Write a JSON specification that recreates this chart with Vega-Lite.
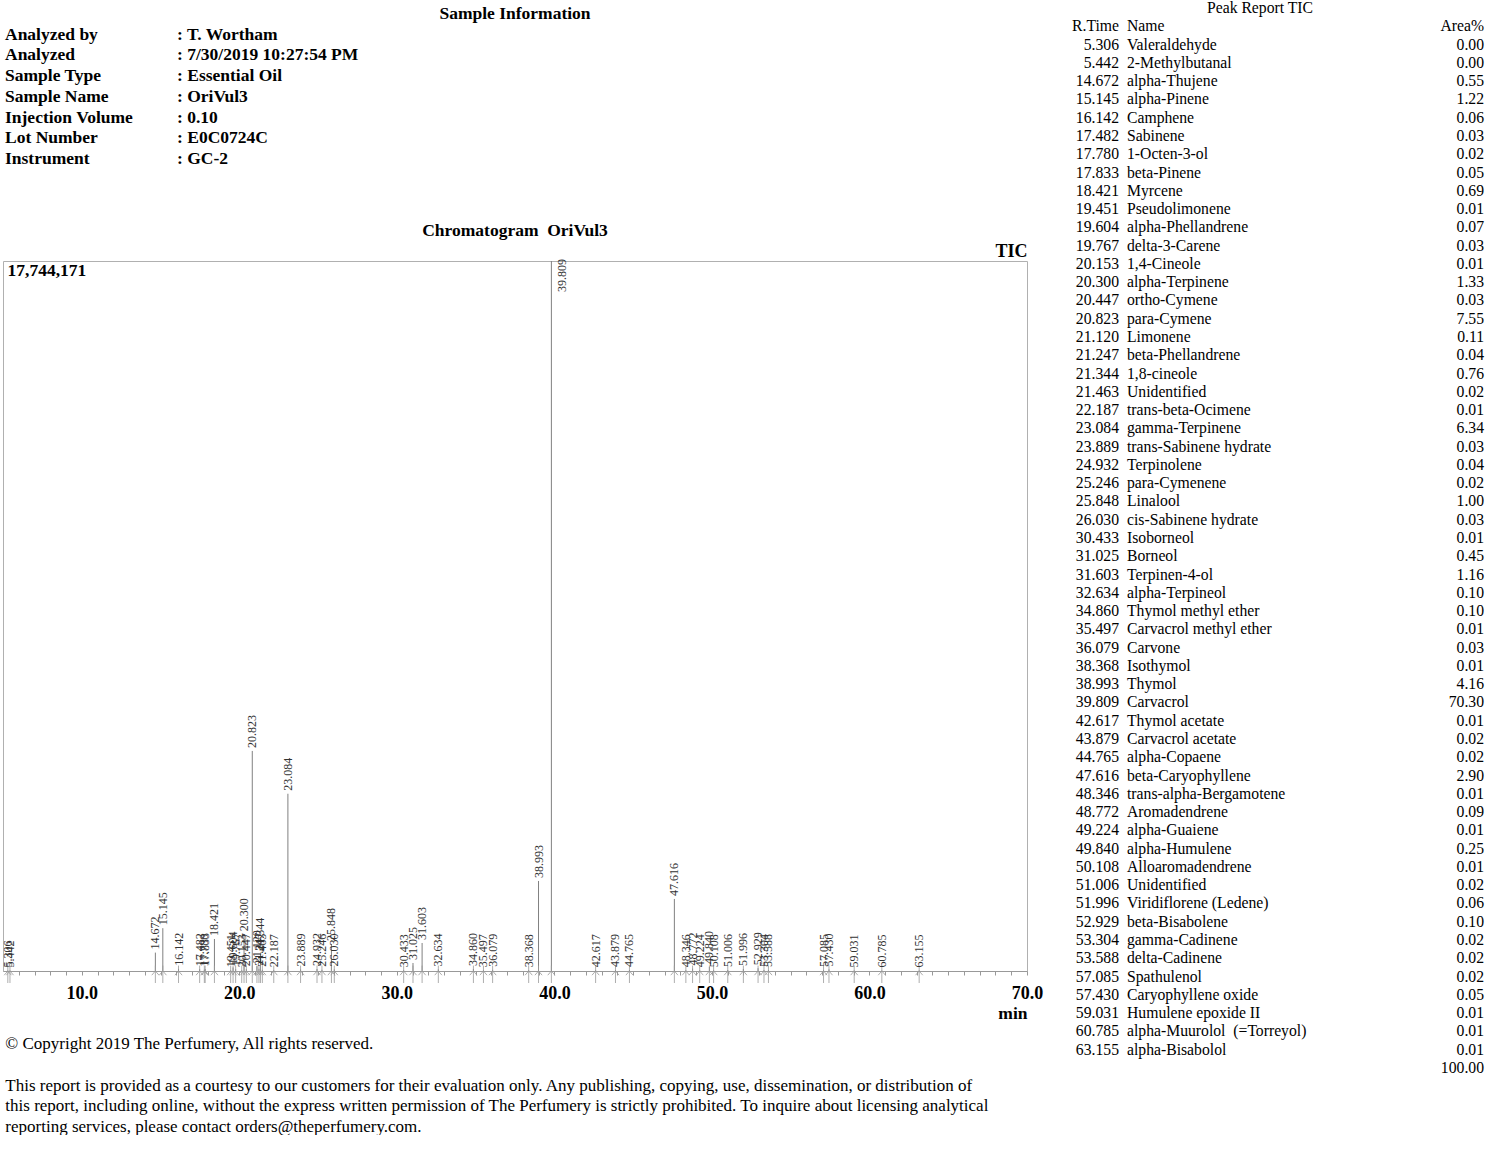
{
  "$schema": "https://vega.github.io/schema/vega-lite/v6.json",
  "background": "white",
  "padding": {"left": 1, "top": 0, "right": 0, "bottom": 0},
  "config": {"font": "Liberation Serif", "view": {"stroke": null}},
  "datasets": {
    "info": [
      {"label": "Analyzed by", "value": ": T. Wortham"},
      {"label": "Analyzed", "value": ": 7/30/2019 10:27:54 PM"},
      {"label": "Sample Type", "value": ": Essential Oil"},
      {"label": "Sample Name", "value": ": OriVul3"},
      {"label": "Injection Volume", "value": ": 0.10"},
      {"label": "Lot Number", "value": ": E0C0724C"},
      {"label": "Instrument", "value": ": GC-2"}
    ],
    "infoHead": [
      {"label": "Sample Information"}
    ],
    "extra": [
      {"rt": "title", "c1": "", "c2": "", "c3": "", "t": "Peak Report TIC"},
      {"rt": "hdr", "c1": "R.Time", "c2": "Name", "c3": "Area%", "t": ""},
      {"rt": "total", "c1": "", "c2": "", "c3": "100.00", "t": ""}
    ],
    "peaks": [
      {"rt": 5.306, "name": "Valeraldehyde", "area": 0.00, "h": 15000},
      {"rt": 5.442, "name": "2-Methylbutanal", "area": 0.00, "h": 15000},
      {"rt": 14.672, "name": "alpha-Thujene", "area": 0.55, "h": 460000},
      {"rt": 15.145, "name": "alpha-Pinene", "area": 1.22, "h": 1070000},
      {"rt": 16.142, "name": "Camphene", "area": 0.06, "h": 55000},
      {"rt": 17.482, "name": "Sabinene", "area": 0.03, "h": 45000},
      {"rt": 17.780, "name": "1-Octen-3-ol", "area": 0.02, "h": 30000},
      {"rt": 17.833, "name": "beta-Pinene", "area": 0.05, "h": 50000},
      {"rt": 18.421, "name": "Myrcene", "area": 0.69, "h": 800000},
      {"rt": 19.451, "name": "Pseudolimonene", "area": 0.01, "h": 20000},
      {"rt": 19.604, "name": "alpha-Phellandrene", "area": 0.07, "h": 90000},
      {"rt": 19.767, "name": "delta-3-Carene", "area": 0.03, "h": 45000},
      {"rt": 20.153, "name": "1,4-Cineole", "area": 0.01, "h": 20000},
      {"rt": 20.300, "name": "alpha-Terpinene", "area": 1.33, "h": 920000},
      {"rt": 20.447, "name": "ortho-Cymene", "area": 0.03, "h": 45000},
      {"rt": 20.823, "name": "para-Cymene", "area": 7.55, "h": 5500000},
      {"rt": 21.120, "name": "Limonene", "area": 0.11, "h": 120000},
      {"rt": 21.247, "name": "beta-Phellandrene", "area": 0.04, "h": 55000},
      {"rt": 21.344, "name": "1,8-cineole", "area": 0.76, "h": 430000},
      {"rt": 21.463, "name": "Unidentified", "area": 0.02, "h": 30000},
      {"rt": 22.187, "name": "trans-beta-Ocimene", "area": 0.01, "h": 20000},
      {"rt": 23.084, "name": "gamma-Terpinene", "area": 6.34, "h": 4430000},
      {"rt": 23.889, "name": "trans-Sabinene hydrate", "area": 0.03, "h": 40000},
      {"rt": 24.932, "name": "Terpinolene", "area": 0.04, "h": 50000},
      {"rt": 25.246, "name": "para-Cymenene", "area": 0.02, "h": 30000},
      {"rt": 25.848, "name": "Linalool", "area": 1.00, "h": 675000},
      {"rt": 26.030, "name": "cis-Sabinene hydrate", "area": 0.03, "h": 40000},
      {"rt": 30.433, "name": "Isoborneol", "area": 0.01, "h": 20000},
      {"rt": 31.025, "name": "Borneol", "area": 0.45, "h": 200000},
      {"rt": 31.603, "name": "Terpinen-4-ol", "area": 1.16, "h": 700000},
      {"rt": 32.634, "name": "alpha-Terpineol", "area": 0.10, "h": 40000},
      {"rt": 34.860, "name": "Thymol methyl ether", "area": 0.10, "h": 50000},
      {"rt": 35.497, "name": "Carvacrol methyl ether", "area": 0.01, "h": 20000},
      {"rt": 36.079, "name": "Carvone", "area": 0.03, "h": 30000},
      {"rt": 38.368, "name": "Isothymol", "area": 0.01, "h": 20000},
      {"rt": 38.993, "name": "Thymol", "area": 4.16, "h": 2250000},
      {"rt": 39.809, "name": "Carvacrol", "area": 70.30, "h": 17744171},
      {"rt": 42.617, "name": "Thymol acetate", "area": 0.01, "h": 20000},
      {"rt": 43.879, "name": "Carvacrol acetate", "area": 0.02, "h": 25000},
      {"rt": 44.765, "name": "alpha-Copaene", "area": 0.02, "h": 25000},
      {"rt": 47.616, "name": "beta-Caryophyllene", "area": 2.90, "h": 1800000},
      {"rt": 48.346, "name": "trans-alpha-Bergamotene", "area": 0.01, "h": 20000},
      {"rt": 48.772, "name": "Aromadendrene", "area": 0.09, "h": 60000},
      {"rt": 49.224, "name": "alpha-Guaiene", "area": 0.01, "h": 20000},
      {"rt": 49.840, "name": "alpha-Humulene", "area": 0.25, "h": 100000},
      {"rt": 50.108, "name": "Alloaromadendrene", "area": 0.01, "h": 20000},
      {"rt": 51.006, "name": "Unidentified", "area": 0.02, "h": 25000},
      {"rt": 51.996, "name": "Viridiflorene (Ledene)", "area": 0.06, "h": 50000},
      {"rt": 52.929, "name": "beta-Bisabolene", "area": 0.10, "h": 70000},
      {"rt": 53.304, "name": "gamma-Cadinene", "area": 0.02, "h": 25000},
      {"rt": 53.588, "name": "delta-Cadinene", "area": 0.02, "h": 25000},
      {"rt": 57.085, "name": "Spathulenol", "area": 0.02, "h": 25000},
      {"rt": 57.430, "name": "Caryophyllene oxide", "area": 0.05, "h": 40000},
      {"rt": 59.031, "name": "Humulene epoxide II", "area": 0.01, "h": 15000},
      {"rt": 60.785, "name": "alpha-Muurolol\u00a0 (=Torreyol)", "area": 0.01, "h": 15000},
      {"rt": 63.155, "name": "alpha-Bisabolol", "area": 0.01, "h": 15000}
    ]
  },
  "hconcat": [
    {
      "spacing": 48,
      "title": {
        "text": "© Copyright 2019 The Perfumery, All rights reserved.",
        "subtitle": [
          "This report is provided as a courtesy to our customers for their evaluation only. Any publishing, copying, use, dissemination, or distribution of",
          "this report, including online, without the express written permission of The Perfumery is strictly prohibited. To inquire about licensing analytical",
          "reporting services, please contact orders@theperfumery.com."
        ],
        "orient": "bottom",
        "anchor": "start",
        "fontSize": 17,
        "fontWeight": "normal",
        "color": "black",
        "subtitleFontSize": 17,
        "subtitleColor": "black",
        "subtitleFont": "Liberation Serif",
        "subtitleLineHeight": 20.3,
        "subtitlePadding": 25,
        "offset": 14,
        "dx": 4
      },
      "vconcat": [
        {
          "width": 1024,
          "height": 173,
          "encoding": {
            "y": {"field": "label", "type": "ordinal", "axis": null,
              "scale": {"type": "point", "padding": 0.676, "domain": ["Sample Information", "Analyzed by", "Analyzed", "Sample Type", "Sample Name", "Injection Volume", "Lot Number", "Instrument"]}}
          },
          "layer": [
            {
              "data": {"name": "infoHead"},
              "mark": {"type": "text", "align": "center", "baseline": "middle", "fontSize": 17.5, "fontWeight": "bold", "color": "black"},
              "encoding": {
                "x": {"datum": 512, "type": "quantitative", "scale": {"domain": [0, 1024], "nice": false, "zero": false}, "axis": null},
                "text": {"field": "label", "type": "nominal"}
              }
            },
            {
              "data": {"name": "info"},
              "mark": {"type": "text", "align": "left", "baseline": "middle", "fontSize": 17.5, "fontWeight": "bold", "color": "black"},
              "encoding": {
                "x": {"datum": 2, "type": "quantitative", "scale": {"domain": [0, 1024], "nice": false, "zero": false}, "axis": null},
                "text": {"field": "label", "type": "nominal"}
              }
            },
            {
              "data": {"name": "info"},
              "mark": {"type": "text", "align": "left", "baseline": "middle", "fontSize": 17.5, "fontWeight": "bold", "color": "black"},
              "encoding": {
                "x": {"datum": 174, "type": "quantitative", "scale": {"domain": [0, 1024], "nice": false, "zero": false}, "axis": null},
                "text": {"field": "value", "type": "nominal"}
              }
            }
          ]
        },
        {
          "width": 1024,
          "height": 710,
          "view": {"stroke": "#b0b0b0", "strokeWidth": 1},
          "title": {"text": "Chromatogram\u00a0 OriVul3", "fontSize": 17.5, "fontWeight": "bold", "color": "black", "anchor": "middle", "offset": 3},
          "data": {"name": "peaks"},
          "encoding": {
            "x": {
              "field": "rt", "type": "quantitative",
              "scale": {"domain": [5, 70], "nice": false, "zero": false},
              "axis": {
                "values": [6,7,8,9,10,11,12,13,14,15,16,17,18,19,20,21,22,23,24,25,26,27,28,29,30,31,32,33,34,35,36,37,38,39,40,41,42,43,44,45,46,47,48,49,50,51,52,53,54,55,56,57,58,59,60,61,62,63,64,65,66,67,68,69,70],
                "labelExpr": "datum.value % 10 === 0 ? format(datum.value, '.1f') : ''",
                "labelFontSize": 18, "labelFontWeight": "bold", "labelColor": "black",
                "labelFlush": false, "labelOverlap": false, "labelPadding": 9,
                "tickSize": 4, "tickColor": "#999", "domainColor": "#999", "grid": false,
                "title": "min", "titleAnchor": "end", "titleAlign": "right",
                "titleFontSize": 17.5, "titleFontWeight": "bold", "titleColor": "black", "titlePadding": 2
              }
            }
          },
          "layer": [
            {
              "mark": {"type": "rule", "color": "#808080", "strokeWidth": 1},
              "encoding": {
                "y": {
                  "field": "h", "type": "quantitative",
                  "scale": {"domain": [0, 17744171], "nice": false, "zero": true},
                  "axis": {
                    "orient": "left", "values": [17744171], "labelExpr": "format(datum.value, ',')",
                    "labelAlign": "left", "labelBaseline": "top", "labelPadding": -4,
                    "ticks": false, "tickSize": 0, "domain": false, "grid": false, "title": null,
                    "labelFontSize": 17.5, "labelFontWeight": "bold", "labelColor": "black"
                  }
                },
                "y2": {"datum": 0}
              }
            },
            {
              "mark": {"type": "point", "shape": "M0,-0.45L0,1M-0.3,0.35L0,0L0.3,0.35", "filled": false, "color": "#999", "strokeWidth": 0.8, "size": 576, "opacity": 1},
              "encoding": {
                "y": {"datum": 0, "type": "quantitative", "axis": null}
              }
            },
            {
              "transform": [{"filter": "datum.rt != 39.809"}],
              "mark": {"type": "text", "angle": 270, "align": "left", "baseline": "middle", "dx": 3, "fontSize": 12, "color": "#333"},
              "encoding": {
                "y": {
                  "field": "h", "type": "quantitative",
                  "axis": {
                    "orient": "right", "labels": false, "ticks": false, "domain": false, "grid": false,
                    "title": "TIC", "titleAngle": 0, "titleAlign": "right", "titleBaseline": "bottom",
                    "titleAnchor": "end", "titleX": 0, "titleY": -1,
                    "titleFontSize": 18, "titleFontWeight": "bold", "titleColor": "black"
                  }
                },
                "text": {"field": "rt", "type": "quantitative", "format": ".3f"}
              }
            },
            {
              "transform": [{"filter": "datum.rt == 39.809"}],
              "mark": {"type": "text", "angle": 270, "align": "right", "baseline": "middle", "dx": 2, "dy": 11, "fontSize": 12, "color": "#333"},
              "encoding": {
                "y": {"field": "h", "type": "quantitative", "axis": null},
                "text": {"field": "rt", "type": "quantitative", "format": ".3f"}
              }
            }
          ],
          "resolve": {"axis": {"y": "independent"}}
        }
      ]
    },
    {
      "width": 425,
      "height": 1076,
      "encoding": {
        "y": {
          "field": "rt", "type": "ordinal", "axis": null,
          "scale": {"type": "point", "padding": 0.44, "domain": ["title","hdr",5.306,5.442,14.672,15.145,16.142,17.482,17.78,17.833,18.421,19.451,19.604,19.767,20.153,20.3,20.447,20.823,21.12,21.247,21.344,21.463,22.187,23.084,23.889,24.932,25.246,25.848,26.03,30.433,31.025,31.603,32.634,34.86,35.497,36.079,38.368,38.993,39.809,42.617,43.879,44.765,47.616,48.346,48.772,49.224,49.84,50.108,51.006,51.996,52.929,53.304,53.588,57.085,57.43,59.031,60.785,63.155,"total"]}
        }
      },
      "layer": [
        {
          "data": {"name": "peaks"},
          "mark": {"type": "text", "align": "right", "baseline": "middle", "fontSize": 15.7, "color": "black"},
          "encoding": {
            "x": {"datum": 56, "type": "quantitative", "scale": {"domain": [0, 425], "nice": false, "zero": false}, "axis": null},
            "text": {"field": "rt", "type": "quantitative", "format": ".3f"}
          }
        },
        {
          "data": {"name": "peaks"},
          "mark": {"type": "text", "align": "left", "baseline": "middle", "fontSize": 15.7, "color": "black"},
          "encoding": {
            "x": {"datum": 64, "type": "quantitative", "scale": {"domain": [0, 425], "nice": false, "zero": false}, "axis": null},
            "text": {"field": "name", "type": "nominal"}
          }
        },
        {
          "data": {"name": "peaks"},
          "mark": {"type": "text", "align": "right", "baseline": "middle", "fontSize": 15.7, "color": "black"},
          "encoding": {
            "x": {"datum": 421, "type": "quantitative", "scale": {"domain": [0, 425], "nice": false, "zero": false}, "axis": null},
            "text": {"field": "area", "type": "quantitative", "format": ".2f"}
          }
        },
        {
          "data": {"name": "extra"},
          "mark": {"type": "text", "align": "right", "baseline": "middle", "fontSize": 15.7, "color": "black"},
          "encoding": {
            "x": {"datum": 56, "type": "quantitative", "scale": {"domain": [0, 425], "nice": false, "zero": false}, "axis": null},
            "text": {"field": "c1", "type": "nominal"}
          }
        },
        {
          "data": {"name": "extra"},
          "mark": {"type": "text", "align": "left", "baseline": "middle", "fontSize": 15.7, "color": "black"},
          "encoding": {
            "x": {"datum": 64, "type": "quantitative", "scale": {"domain": [0, 425], "nice": false, "zero": false}, "axis": null},
            "text": {"field": "c2", "type": "nominal"}
          }
        },
        {
          "data": {"name": "extra"},
          "mark": {"type": "text", "align": "right", "baseline": "middle", "fontSize": 15.7, "color": "black"},
          "encoding": {
            "x": {"datum": 421, "type": "quantitative", "scale": {"domain": [0, 425], "nice": false, "zero": false}, "axis": null},
            "text": {"field": "c3", "type": "nominal"}
          }
        },
        {
          "data": {"name": "extra"},
          "mark": {"type": "text", "align": "center", "baseline": "middle", "fontSize": 15.7, "color": "black"},
          "encoding": {
            "x": {"datum": 197, "type": "quantitative", "scale": {"domain": [0, 425], "nice": false, "zero": false}, "axis": null},
            "text": {"field": "t", "type": "nominal"}
          }
        }
      ]
    }
  ],
  "spacing": 19
}
